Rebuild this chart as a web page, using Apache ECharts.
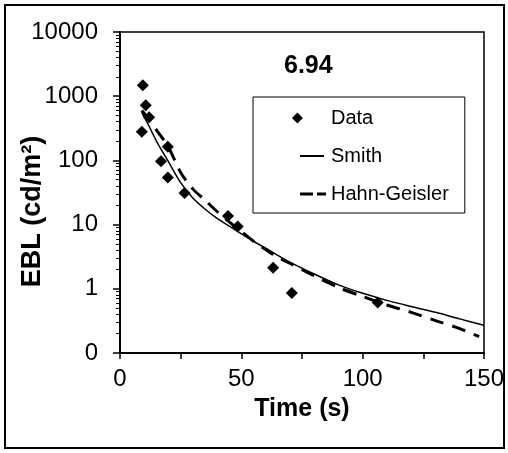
<!DOCTYPE html>
<html>
<head>
<meta charset="utf-8">
<script src="https://cdn.jsdelivr.net/npm/echarts@6/dist/echarts.min.js"></script>
<style>
  html, body { margin: 0; padding: 0; background: #fff; }
  #chart { width: 508px; height: 453px; }
</style>
</head>
<body>
<div id="chart"></div>
<script>
// measured points
var timeData = [9.4, 10.6, 12.0, 9.0, 19.7, 16.9, 19.7, 26.6, 44.5, 48.5, 63.1, 70.8, 106.2];
var eblData = [1480, 720, 470, 280, 163, 97, 54, 31, 13.6, 9.3, 2.13, 0.86, 0.61];

// Smith model curve
var smithTime = [9, 10, 12, 15, 20, 25, 30, 35, 40, 45, 50, 55, 60, 70, 80, 90, 100, 110, 120, 130, 140, 150];
var smithEbl = [560, 470, 340, 200, 95, 45, 26, 17.5, 12.5, 9.5, 7.2, 5.5, 4.3, 2.6, 1.7, 1.15, 0.85, 0.66, 0.53, 0.43, 0.34, 0.27];

// Hahn-Geisler model curve
var hgTime = [9, 12, 15, 20, 25, 30, 35, 40, 45, 50, 55, 60, 65, 70, 80, 90, 100, 110, 120, 130, 140, 148];
var hgEbl = [600, 430, 300, 160, 65, 36, 24, 16, 11, 7.8, 5.5, 4.1, 3.1, 2.5, 1.6, 1.05, 0.76, 0.56, 0.43, 0.32, 0.24, 0.18];

var xTicks = [0, 25, 50, 75, 100, 125, 150];
var xLabels = [0, 50, 100, 150];
var yTicks = [0.1, 1, 10, 100, 1000, 10000];

var minorTicks = [];
for (var d = 0.1; d < 5000; d *= 10) {
  for (var k = 2; k <= 9; k++) minorTicks.push(+(d * k).toPrecision(3));
}

function pairs(xs, ys) {
  return xs.map(function (x, i) { return [x, ys[i]]; });
}

// legend icons drawn in a 34x11 box (the zero-width strokes only fix the box size)
var iconBox = 'M0,0L0,11 M34,0L34,11 ';
var iconData = iconBox + 'M5,0L10.5,5.5L5,11L-0.5,5.5Z';
var iconSmith = iconBox + 'M8,4.6h24v1.8h-24Z';
var iconHahn = iconBox + 'M8,3.9h13v3.2h-13Z M25,3.9h9v3.2h-9Z';

var font = 'Liberation Sans, Arial, sans-serif';
var myChart = echarts.init(document.getElementById('chart'));
var option = {
  backgroundColor: '#fff',
  animation: false,
  title: {
    text: '6.94',
    left: 279,
    top: 49,
    textStyle: { fontFamily: font, fontSize: 25, fontWeight: 'bold', color: '#000' }
  },
  legend: {
    orient: 'vertical',
    left: 253,
    top: 97,
    borderColor: '#000',
    borderWidth: 1,
    borderRadius: 0,
    padding: [11, 16, 9, 39],
    itemGap: 18,
    itemWidth: 34,
    itemHeight: 11,
    symbolKeepAspect: true,
    itemStyle: { borderWidth: 0, opacity: 1 },
    textStyle: { fontFamily: font, fontSize: 20, color: '#000' },
    data: [
      { name: 'Data', icon: 'path://' + iconData },
      { name: 'Smith', icon: 'path://' + iconSmith },
      { name: 'Hahn-Geisler', icon: 'path://' + iconHahn }
    ]
  },
  graphic: [{
    type: 'rect',
    shape: { x: 5, y: 5, width: 499, height: 443 },
    style: { fill: 'none', stroke: '#000', lineWidth: 2 },
    silent: true
  }],
  grid: {
    left: 120, right: 24, top: 32, bottom: 100,
    outerBoundsMode: 'none',
    containLabel: false,
    show: true, borderColor: '#000', borderWidth: 1.5
  },
  xAxis: {
    type: 'value',
    min: 0, max: 150,
    name: 'Time (s)',
    nameLocation: 'middle',
    nameGap: 44,
    nameMoveOverlap: false,
    nameTextStyle: { fontFamily: font, fontSize: 25, fontWeight: 'bold', color: '#000' },
    axisLine: { lineStyle: { color: '#000', width: 2 } },
    axisTick: { show: true, inside: false, length: 6, customValues: xTicks, lineStyle: { color: '#000', width: 1.5 } },
    axisLabel: { customValues: xLabels, margin: 14, fontFamily: font, fontSize: 24, color: '#000' },
    splitLine: { show: false }
  },
  yAxis: [{
    type: 'log',
    logBase: 10,
    min: 0.1, max: 10000,
    name: 'EBL (cd/m²)',
    nameLocation: 'middle',
    nameGap: 74,
    nameMoveOverlap: false,
    nameTextStyle: { fontFamily: font, fontSize: 27, fontWeight: 'bold', color: '#000', padding: [0, 38, 0, 0] },
    axisLine: { lineStyle: { color: '#000', width: 2 } },
    axisTick: { show: true, inside: false, length: 7, customValues: yTicks, lineStyle: { color: '#000', width: 1.5 } },
    axisLabel: {
      customValues: yTicks,
      margin: 22,
      fontFamily: font, fontSize: 24, color: '#000',
      formatter: function (v) { return String(Math.round(v)); }
    },
    splitLine: { show: false }
  }, {
    type: 'log',
    logBase: 10,
    min: 0.1, max: 10000,
    position: 'left',
    axisLine: { show: false },
    axisTick: { show: true, inside: false, length: 4, customValues: minorTicks, lineStyle: { color: '#000', width: 1 } },
    axisLabel: { show: false },
    splitLine: { show: false }
  }],
  series: [{
    name: 'Data',
    type: 'scatter',
    symbol: 'diamond',
    symbolSize: 12,
    itemStyle: { color: '#000', opacity: 1 },
    data: pairs(timeData, eblData),
    z: 5
  }, {
    name: 'Smith',
    type: 'line',
    smooth: 0.3,
    symbol: 'none',
    lineStyle: { color: '#000', width: 1.5, type: 'solid' },
    itemStyle: { color: '#000' },
    data: pairs(smithTime, smithEbl)
  }, {
    name: 'Hahn-Geisler',
    type: 'line',
    smooth: 0.3,
    symbol: 'none',
    lineStyle: { color: '#000', width: 3, type: [14, 9] },
    itemStyle: { color: '#000' },
    data: pairs(hgTime, hgEbl)
  }]
};
myChart.setOption(option);
</script>
</body>
</html>
